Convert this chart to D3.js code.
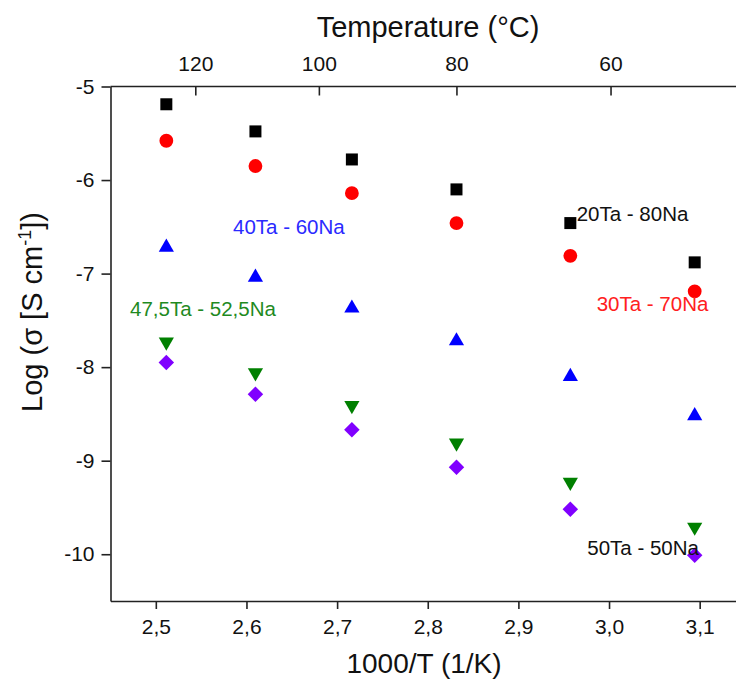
<!DOCTYPE html>
<html><head><meta charset="utf-8">
<script src="https://cdn.jsdelivr.net/npm/d3@7"></script>
<style>
html,body{margin:0;padding:0;background:#fff;}
svg{display:block;font-family:Arial,"Liberation Sans",sans-serif;}
</style></head>
<body><svg id="c" width="736" height="683"></svg>
<script>
// ---- data ----
const invT = [2.5116, 2.6099, 2.7163, 2.8317, 2.9573, 3.0945]; // 1000/T (1/K)
const s20Ta80Na = [-5.19, -5.48, -5.78, -6.10, -6.46, -6.88];
const s30Ta70Na = [-5.58, -5.85, -6.14, -6.46, -6.81, -7.19];
const s40Ta60Na = [-6.72, -7.04, -7.37, -7.72, -8.10, -8.52];
const s475Ta525Na = [-7.73, -8.06, -8.41, -8.81, -9.23, -9.71];
const s50Ta50Na = [-7.95, -8.29, -8.67, -9.07, -9.52, -10.01];
const seriesNames = ["20Ta - 80Na", "30Ta - 70Na", "40Ta - 60Na", "47,5Ta - 52,5Na", "50Ta - 50Na"];
const xTicks = [2.5, 2.6, 2.7, 2.8, 2.9, 3.0, 3.1];
const xMinor = [2.45, 2.55, 2.65, 2.75, 2.85, 2.95, 3.05, 3.15];
const yTicks = [-5, -6, -7, -8, -9, -10];
const yMinor = [-5.5, -6.5, -7.5, -8.5, -9.5, -10.5];
const tempTicks = [120, 100, 80, 60];
const tempMinor = [130, 110, 90, 70, 50];

const svg = d3.select("#c");
const x = d3.scaleLinear().domain([2.45, 3.15]).range([110.5, 745]);
const y = d3.scaleLinear().domain([-10.5, -5]).range([601, 86.5]);
const comma = d => d3.format(".1f")(d).replace(".", ",");
const axisColor = "#222";

// bottom axis
const gb = svg.append("g").attr("transform", `translate(0,${y(-10.5)})`);
gb.call(d3.axisBottom(x).tickValues(xMinor).tickSize(4).tickFormat("").tickSizeOuter(0));
gb.call(d3.axisBottom(x).tickValues(xTicks).tickSize(8).tickPadding(10).tickFormat(comma).tickSizeOuter(0));
// left axis
const gl = svg.append("g").attr("transform", `translate(${x(2.45)},0)`);
gl.call(d3.axisLeft(y).tickValues(yMinor).tickSize(5).tickFormat("").tickSizeOuter(0));
gl.call(d3.axisLeft(y).tickValues(yTicks).tickSize(9).tickPadding(7).tickFormat(d => d3.format("d")(d).replace("−","-")).tickSizeOuter(0));
// top axis (temperature)
const tx = t => x(1000 / (t + 273.15));
const gt = svg.append("g").attr("transform", `translate(0,${y(-5)})`);
const topAxis = (vals, size) => d3.axisTop(d3.scaleIdentity()).tickValues(vals.map(tx)).tickSize(-size).tickSizeOuter(0);
gt.call(topAxis(tempMinor, 5).tickFormat(""));
gt.call(topAxis(tempTicks, 9).tickPadding(16).tickFormat((d, i) => tempTicks[i]));
gt.select(".domain").attr("d", `M${x(2.45)},0H${x(3.15)}`);

svg.selectAll(".domain").attr("stroke", axisColor).attr("stroke-width", 1.6);
svg.selectAll(".tick line").attr("stroke", axisColor).attr("stroke-width", 1.6);
svg.selectAll(".tick text").attr("font-size", 21).attr("fill", "#111")
  .attr("font-family", "Arial, 'Liberation Sans', sans-serif");

// markers
const series = [
  {vals: s20Ta80Na, color: "#000000", sym: d3.symbolSquare, size: 144, rot: 0},
  {vals: s30Ta70Na, color: "#ff0000", sym: d3.symbolCircle, size: 150, rot: 0},
  {vals: s40Ta60Na, color: "#0000ff", sym: d3.symbolTriangle, size: 100, rot: 0},
  {vals: s475Ta525Na, color: "#008000", sym: d3.symbolTriangle, size: 100, rot: 180},
  {vals: s50Ta50Na, color: "#8000ff", sym: d3.symbolSquare, size: 120, rot: 45},
];
series.forEach(s => {
  svg.append("g").selectAll("path").data(s.vals).join("path")
    .attr("d", d3.symbol().type(s.sym).size(s.size))
    .attr("fill", s.color)
    .attr("transform", (v, i) => `translate(${x(invT[i])},${y(v)}) rotate(${s.rot})`);
});

// series labels
const labels = [
  {t: seriesNames[0], c: "#111111", x: 2.9643, y: -6.44},
  {t: seriesNames[1], c: "#ff2020", x: 2.9864, y: -7.40},
  {t: seriesNames[2], c: "#2a2aff", x: 2.5852, y: -6.58},
  {t: seriesNames[3], c: "#1f8a1f", x: 2.4715, y: -7.45},
  {t: seriesNames[4], c: "#111111", x: 2.9760, y: -10.01},
];
svg.append("g").selectAll("text").data(labels).join("text")
  .attr("x", d => x(d.x)).attr("y", d => y(d.y))
  .attr("font-size", 20.5).attr("fill", d => d.c).text(d => d.t);

// axis titles
svg.append("text").attr("x", 428).attr("y", 37).attr("text-anchor", "middle")
  .attr("font-size", 29).attr("fill", "#111").text("Temperature (°C)");
svg.append("text").attr("x", 424).attr("y", 673).attr("text-anchor", "middle")
  .attr("font-size", 28).attr("fill", "#111").text("1000/T (1/K)");
const yl = svg.append("text").attr("transform", "translate(42,312) rotate(-90)")
  .attr("text-anchor", "middle").attr("font-size", 29).attr("fill", "#111");
yl.append("tspan").text("Log (σ [S cm");
yl.append("tspan").attr("font-size", 18).attr("dy", -11).text("-1");
yl.append("tspan").attr("dy", 11).text("])");
</script></body></html>
